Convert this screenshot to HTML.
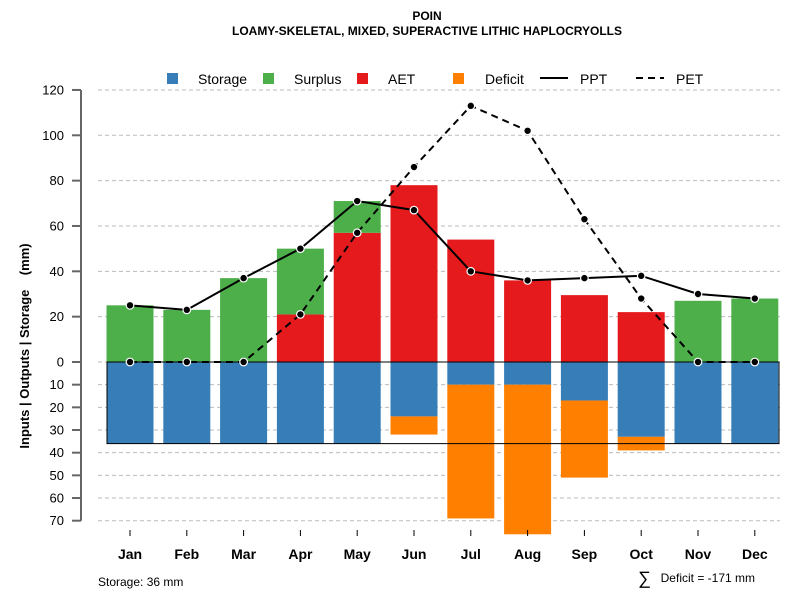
<!DOCTYPE html>
<html><head><meta charset="utf-8"><style>
body{margin:0;background:#fff}
svg{font-family:"Liberation Sans",sans-serif}
</style></head><body>
<svg id="c" width="800" height="600" xmlns="http://www.w3.org/2000/svg"></svg>
<script>
const months=["Jan","Feb","Mar","Apr","May","Jun","Jul","Aug","Sep","Oct","Nov","Dec"];
const surplus=[25,23,37,29,14,0,0,0,0,0,27,28];
const aet=[0,0,0,21,57,78,54,36,29.5,22,0,0];
const storage=[36,36,36,36,36,24,10,10,17,33,36,36];
const deficit=[0,0,0,0,0,8,59,66,34,6,0,0];
const ppt=[25,23,37,50,71,67,40,36,37,38,30,28];
const pet=[0,0,0,21,57,86,113,102,63,28,0,0];
const upTicks=[0,20,40,60,80,100,120];
const downTicks=[10,20,30,40,50,60,70];
const storageCap=36;

const svg=document.getElementById('c');
const NS="http://www.w3.org/2000/svg";
function el(t,a,p){const e=document.createElementNS(NS,t);for(const k in a)e.setAttribute(k,a[k]);(p||svg).appendChild(e);return e;}
const y0=362,k=2.267;
const yUp=v=>y0-v*k, yDn=v=>y0+v*k;
const xc=i=>130+i*56.8, bw=47;
const C={s:"#377EB8",g:"#4DAF4A",r:"#E41A1C",o:"#FF7F00"};

for(const t of upTicks){const g=el('line',{x1:98,x2:780,y1:yUp(t),y2:yUp(t),stroke:"#bbb","stroke-dasharray":"4,3"});}
for(const t of downTicks){const g=el('line',{x1:98,x2:780,y1:yDn(t),y2:yDn(t),stroke:"#bbb","stroke-dasharray":"4,3"});}
months.forEach((m,i)=>{
 const x=xc(i)-bw/2;
 let r;
 if(storage[i]>0){r=el('rect',{x,y:y0,width:bw,height:storage[i]*k,fill:C.s});}
 if(deficit[i]>0){r=el('rect',{x,y:yDn(storage[i]),width:bw,height:deficit[i]*k,fill:C.o});}
 if(aet[i]>0){r=el('rect',{x,y:yUp(aet[i]),width:bw,height:aet[i]*k,fill:C.r});}
 if(surplus[i]>0){r=el('rect',{x,y:yUp(aet[i]+surplus[i]),width:bw,height:surplus[i]*k,fill:C.g});}
});
const sb=el('rect',{x:107,y:y0,width:672,height:storageCap*k,fill:"none",stroke:"#000","stroke-width":1});

function line(arr,dash,name){
 const p=el('polyline',{points:arr.map((v,i)=>xc(i)+","+yUp(v)).join(" "),fill:"none",stroke:"#000","stroke-width":2,"stroke-dasharray":dash});
 
 arr.forEach((v,i)=>{const c=el('circle',{cx:xc(i),cy:yUp(v),r:3.8,fill:"#000",stroke:"#fff","stroke-width":1.2});});
}
line(pet,"7,5","pet");line(ppt,"none","ppt");
const ax=el('line',{x1:81,x2:81,y1:yUp(120),y2:yDn(70),stroke:"#666","stroke-width":2});
function tick(y,lab){
 el('line',{x1:72,x2:81,y1:y,y2:y,stroke:"#666","stroke-width":2});
 const t=el('text',{x:64,y:y+4.5,"text-anchor":"end","font-size":13});t.textContent=lab;
 
}
upTicks.forEach(t=>tick(yUp(t),t));downTicks.forEach(t=>tick(yDn(t),t));
months.forEach((m,i)=>{
 el('line',{x1:xc(i),x2:xc(i),y1:530,y2:536,stroke:"#000"});
 const t=el('text',{x:xc(i),y:559,"text-anchor":"middle","font-size":14,"font-weight":"bold"});t.textContent=m;
 
});
const yt=el('text',{transform:"translate(29,346) rotate(-90)","text-anchor":"middle","font-size":13,"font-weight":"bold"});yt.textContent="Inputs | Outputs | Storage\u00a0\u00a0\u00a0\u00a0(mm)";

const t1=el('text',{x:427,y:20,"text-anchor":"middle","font-size":12,"font-weight":"bold"});t1.textContent="POIN";
const t2=el('text',{x:427,y:35,"text-anchor":"middle","font-size":12,"font-weight":"bold"});t2.textContent="LOAMY-SKELETAL, MIXED, SUPERACTIVE LITHIC HAPLOCRYOLLS";
const leg=[["Storage",C.s,172,198],["Surplus",C.g,268,294],["AET",C.r,362,388],["Deficit",C.o,458,485]];
leg.forEach(([n,c,x,tx])=>{const r=el('rect',{x:x-5,y:73,width:11,height:11,fill:c});
 const t=el('text',{x:tx,y:84,"font-size":14});t.textContent=n;});
el('line',{x1:540,x2:568,y1:78,y2:78,stroke:"#000","stroke-width":2});
let lt=el('text',{x:580,y:84,"font-size":14});lt.textContent="PPT";
el('line',{x1:636,x2:664,y1:78,y2:78,stroke:"#000","stroke-width":2,"stroke-dasharray":"7,5"});
lt=el('text',{x:676,y:84,"font-size":14});lt.textContent="PET";
const f1=el('text',{x:98,y:586,"font-size":12});f1.textContent="Storage: "+storageCap+" mm";
const sg=el('text',{x:638,y:584,"font-size":18});sg.textContent="\u2211";
const f2=el('text',{x:755,y:582,"font-size":12,"text-anchor":"end"});f2.textContent="Deficit = -171 mm";
</script>
</body></html>
